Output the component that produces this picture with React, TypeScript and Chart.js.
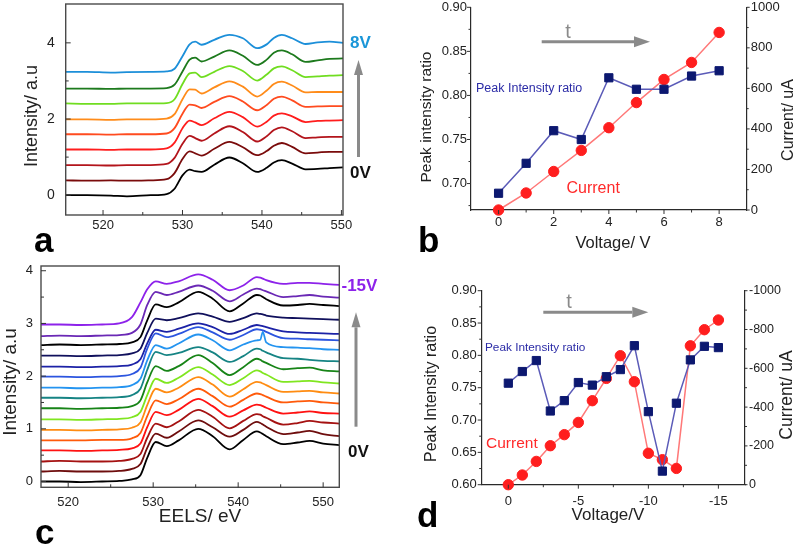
import React, { useEffect, useRef } from 'react';
import { Chart, registerables } from 'chart.js';

Chart.register(...registerables);

const FONT = '"Liberation Sans", Arial, Helvetica, sans-serif';
const W = 797;
const H = 548;

// ---------- Panel a : EELS spectra 0V .. 8V ----------
const A_EV = [515.3, 518, 521, 523, 526, 528, 529, 530, 530.9, 531.6, 532.4, 534, 535.9, 537.6, 539.4, 540.6, 541.5, 542.5, 543.8, 545.5, 547, 548.5, 550.2];
const A_0V = [0.0, 0.0, -0.01, -0.03, 0.0, 0.03, 0.17, 0.52, 0.67, 0.63, 0.61, 0.80, 0.99, 0.84, 0.61, 0.72, 0.86, 0.92, 0.83, 0.68, 0.69, 0.71, 0.73];
const A_1V = [0.39, 0.38, 0.39, 0.38, 0.39, 0.42, 0.58, 0.95, 1.15, 1.10, 1.04, 1.22, 1.40, 1.26, 1.05, 1.16, 1.30, 1.37, 1.27, 1.10, 1.12, 1.14, 1.14];
const A_2V = [0.79, 0.79, 0.78, 0.79, 0.79, 0.82, 0.98, 1.35, 1.56, 1.50, 1.43, 1.62, 1.81, 1.66, 1.41, 1.55, 1.71, 1.78, 1.68, 1.50, 1.52, 1.53, 1.53];
const A_3V = [1.20, 1.20, 1.19, 1.20, 1.20, 1.23, 1.38, 1.76, 1.96, 1.91, 1.84, 2.02, 2.19, 2.05, 1.80, 1.93, 2.09, 2.15, 2.07, 1.92, 1.95, 1.96, 1.97];
const A_4V = [1.60, 1.60, 1.59, 1.60, 1.60, 1.62, 1.76, 2.14, 2.38, 2.36, 2.29, 2.45, 2.60, 2.46, 2.23, 2.37, 2.53, 2.59, 2.49, 2.32, 2.33, 2.34, 2.34];
const A_5V = [1.99, 1.99, 1.98, 1.99, 1.99, 2.01, 2.13, 2.52, 2.78, 2.77, 2.67, 2.83, 2.99, 2.85, 2.59, 2.75, 2.92, 2.98, 2.88, 2.70, 2.71, 2.71, 2.71];
const A_6V = [2.41, 2.40, 2.40, 2.41, 2.41, 2.42, 2.52, 2.92, 3.20, 3.22, 3.10, 3.24, 3.39, 3.26, 3.01, 3.17, 3.33, 3.38, 3.28, 3.10, 3.12, 3.14, 3.15];
const A_7V = [2.80, 2.80, 2.79, 2.80, 2.80, 2.81, 2.90, 3.25, 3.56, 3.61, 3.51, 3.64, 3.80, 3.66, 3.42, 3.56, 3.74, 3.80, 3.70, 3.50, 3.54, 3.58, 3.59];
const A_8V = [3.24, 3.24, 3.22, 3.23, 3.24, 3.25, 3.32, 3.65, 3.96, 4.03, 3.95, 4.08, 4.21, 4.12, 3.86, 3.96, 4.13, 4.21, 4.12, 3.97, 4.01, 4.03, 4.00];
const A_SERIES = [A_0V, A_1V, A_2V, A_3V, A_4V, A_5V, A_6V, A_7V, A_8V];
const A_COLORS = ['#000000', '#7a0b0b', '#b3141b', '#ff1d1d', '#ff4b1f', '#ff8c1a', '#70dd20', '#1d7a1d', '#1c8fd9'];
const A_X_TICKS = [520, 530, 540, 550];
const A_X_MINOR = [525, 535, 545];
const A_Y_TICKS = [0, 2, 4];
const A_Y_MINOR = [1, 3];

// ---------- Panel b : peak ratio & current vs positive voltage ----------
const B_VOLT = [0, 1, 2, 3, 4, 5, 6, 7, 8];
const B_RATIO = [0.689, 0.723, 0.760, 0.750, 0.820, 0.807, 0.807, 0.822, 0.828];
const B_CURRENT = [0, 84, 190, 294, 406, 530, 644, 728, 876];
const B_X_TICKS = [0, 2, 4, 6, 8];
const B_X_MINOR = [1, 3, 5, 7];
const B_YL_TICKS = [0.70, 0.75, 0.80, 0.85, 0.90];
const B_YL_MINOR = [0.675, 0.725, 0.775, 0.825, 0.875];
const B_YR_TICKS = [0, 200, 400, 600, 800, 1000];
const B_YR_MINOR = [100, 300, 500, 700, 900];

// ---------- Panel c : EELS spectra 0V .. -15V ----------
const C_EV = [516.8, 519, 521.5, 524, 526, 527.5, 528.5, 529.3, 530.3, 531.6, 533, 535.3, 537, 539, 540.6, 542.2, 542.6, 542.9, 543.3, 545.3, 547, 548.4, 550, 551.9];
const C_0V = [0.00, 0.00, -0.01, 0.00, 0.01, 0.04, 0.12, 0.45, 0.75, 0.67, 0.78, 1.00, 0.86, 0.61, 0.79, 0.95, 0.93, 0.90, 0.86, 0.71, 0.74, 0.77, 0.72, 0.69];
const C_M1V = [0.19, 0.20, 0.19, 0.19, 0.20, 0.24, 0.33, 0.64, 0.91, 0.83, 0.95, 1.16, 1.03, 0.85, 0.98, 1.13, 1.11, 1.08, 1.04, 0.90, 0.93, 0.96, 0.90, 0.86];
const C_M2V = [0.38, 0.39, 0.38, 0.38, 0.39, 0.43, 0.52, 0.83, 1.10, 1.03, 1.14, 1.36, 1.23, 1.01, 1.15, 1.28, 1.27, 1.24, 1.21, 1.08, 1.11, 1.15, 1.12, 1.10];
const C_M3V = [0.59, 0.59, 0.58, 0.59, 0.60, 0.63, 0.72, 1.03, 1.32, 1.26, 1.36, 1.57, 1.43, 1.23, 1.35, 1.46, 1.45, 1.43, 1.40, 1.29, 1.31, 1.33, 1.30, 1.29];
const C_M4V = [0.78, 0.78, 0.78, 0.79, 0.79, 0.82, 0.92, 1.24, 1.54, 1.47, 1.56, 1.76, 1.62, 1.42, 1.55, 1.67, 1.66, 1.64, 1.61, 1.50, 1.52, 1.53, 1.50, 1.48];
const C_M5V = [0.98, 0.98, 0.97, 0.98, 0.99, 1.02, 1.12, 1.45, 1.76, 1.69, 1.78, 1.98, 1.84, 1.61, 1.75, 1.89, 1.88, 1.86, 1.83, 1.70, 1.71, 1.72, 1.69, 1.67];
const C_M6V = [1.18, 1.18, 1.17, 1.18, 1.19, 1.22, 1.32, 1.64, 1.95, 1.87, 1.97, 2.17, 2.03, 1.83, 1.96, 2.11, 2.09, 2.06, 2.03, 1.89, 1.90, 1.91, 1.88, 1.86];
const C_M7V = [1.39, 1.39, 1.38, 1.39, 1.40, 1.43, 1.54, 1.88, 2.19, 2.10, 2.19, 2.40, 2.25, 2.02, 2.17, 2.33, 2.31, 2.28, 2.25, 2.13, 2.15, 2.16, 2.11, 2.09];
const C_M8V = [1.59, 1.59, 1.58, 1.59, 1.60, 1.64, 1.76, 2.12, 2.46, 2.40, 2.44, 2.55, 2.45, 2.27, 2.38, 2.52, 2.51, 2.48, 2.45, 2.34, 2.33, 2.31, 2.29, 2.28];
const C_M9V = [1.78, 1.78, 1.77, 1.78, 1.79, 1.83, 1.95, 2.30, 2.59, 2.52, 2.62, 2.79, 2.68, 2.49, 2.60, 2.68, 2.69, 2.84, 2.64, 2.55, 2.54, 2.53, 2.51, 2.50];
const C_M10V = [1.99, 1.99, 1.98, 1.99, 2.00, 2.04, 2.16, 2.52, 2.81, 2.74, 2.80, 2.93, 2.83, 2.69, 2.78, 2.89, 2.88, 2.87, 2.84, 2.72, 2.71, 2.70, 2.69, 2.68];
const C_M11V = [2.18, 2.18, 2.17, 2.18, 2.19, 2.22, 2.32, 2.62, 2.88, 2.84, 2.90, 3.00, 2.93, 2.80, 2.88, 2.97, 2.96, 2.95, 2.93, 2.85, 2.83, 2.82, 2.81, 2.80];
const C_M12V = [2.39, 2.39, 2.38, 2.39, 2.40, 2.43, 2.52, 2.82, 3.09, 3.06, 3.10, 3.19, 3.13, 3.03, 3.10, 3.19, 3.18, 3.17, 3.15, 3.11, 3.10, 3.09, 3.08, 3.07];
const C_M13V = [2.59, 2.60, 2.59, 2.60, 2.61, 2.64, 2.74, 3.06, 3.36, 3.31, 3.40, 3.60, 3.47, 3.23, 3.38, 3.54, 3.53, 3.50, 3.46, 3.34, 3.35, 3.37, 3.35, 3.33];
const C_M14V = [2.76, 2.77, 2.76, 2.77, 2.78, 2.82, 2.98, 3.35, 3.60, 3.54, 3.60, 3.72, 3.62, 3.42, 3.55, 3.66, 3.65, 3.63, 3.61, 3.50, 3.52, 3.54, 3.51, 3.49];
const C_M15V = [2.98, 2.98, 2.97, 2.98, 3.00, 3.12, 3.40, 3.65, 3.80, 3.75, 3.80, 3.93, 3.83, 3.63, 3.72, 3.88, 3.87, 3.85, 3.82, 3.75, 3.77, 3.77, 3.75, 3.73];
const C_SERIES = [C_0V, C_M1V, C_M2V, C_M3V, C_M4V, C_M5V, C_M6V, C_M7V, C_M8V, C_M9V, C_M10V, C_M11V, C_M12V, C_M13V, C_M14V, C_M15V];
const C_COLORS = ['#000000', '#6e0d0d', '#a51212', '#ff1212', '#ff5a0a', '#ff8c12', '#80e620', '#178417', '#168484', '#2494f0', '#2c55df', '#1c22a6', '#10105c', '#000000', '#6a28b5', '#8d22ea'];
const C_X_TICKS = [520, 530, 540, 550];
const C_X_MINOR = [525, 535, 545];
const C_Y_TICKS = [0, 1, 2, 3, 4];
const C_Y_MINOR = [0.5, 1.5, 2.5, 3.5];

// ---------- Panel d : peak ratio & current vs negative voltage ----------
const D_VOLT = [0, -1, -2, -3, -4, -5, -6, -7, -8, -9, -10, -11, -12, -13, -14, -15];
const D_RATIO = [0.757, 0.775, 0.792, 0.714, 0.730, 0.758, 0.754, 0.767, 0.778, 0.815, 0.713, 0.621, 0.726, 0.793, 0.814, 0.812];
const D_CURRENT = [0, -50, -120, -201, -258, -321, -433, -548, -665, -531, -162, -129, -84, -716, -799, -849];
const D_X_TICKS = [0, -5, -10, -15];
const D_X_MINOR = [-2.5, -7.5, -12.5];
const D_YL_TICKS = [0.60, 0.65, 0.70, 0.75, 0.80, 0.85, 0.90];
const D_YL_MINOR = [0.625, 0.675, 0.725, 0.775, 0.825, 0.875];
const D_YR_TICKS = [0, -200, -400, -600, -800, -1000];
const D_YR_MINOR = [-100, -300, -500, -700, -900];

// ---------- helpers ----------
type Box = { l: number; r: number; t: number; b: number };
type TickSpec = { axis: string; major: number[]; minor: number[]; inward: boolean; majLen: number; minLen: number };

const A_BOX: Box = { l: 65.7, r: 343, t: 4, b: 215 };
const B_BOX: Box = { l: 471, r: 746.7, t: 7.3, b: 210 };
const C_BOX: Box = { l: 41, r: 339.3, t: 266, b: 487.3 };
const D_BOX: Box = { l: 481.7, r: 745, t: 290.7, b: 484.7 };

function padFor(box: Box, leftW: number, rightW: number, bottomH: number) {
  return { left: box.l - leftW, right: W - box.r - rightW, top: box.t, bottom: H - box.b - bottomH };
}

function fixSize(size: number) {
  return (scale: any) => {
    if (scale.isHorizontal()) scale.height = size;
    else scale.width = size;
    scale.paddingLeft = 0;
    scale.paddingRight = 0;
    scale.paddingTop = 0;
    scale.paddingBottom = 0;
  };
}

function setTicks(values: number[]) {
  return (scale: any) => {
    scale.ticks = values.map((v) => ({ value: v }));
  };
}

function fmtNum(v: number) {
  return v < 0 ? '-' + String(Math.abs(v)) : String(v);
}

function axis(opts: any) {
  const { min, max, ticks, size, padding, fmt, position, reverse, border, fontSize } = opts;
  return {
    type: 'linear',
    position,
    min,
    max,
    reverse: !!reverse,
    grid: { display: false, drawTicks: false },
    border: border ? { display: true, color: '#2a2a2a', width: 1.2 } : { display: false },
    afterBuildTicks: setTicks(ticks),
    afterFit: fixSize(size),
    ticks: {
      padding,
      autoSkip: false,
      maxRotation: 0,
      minRotation: 0,
      color: '#222',
      font: { family: FONT, size: fontSize || 13 },
      callback: (v: number) => (fmt ? fmt(v) : fmtNum(v)),
    },
  };
}

function txt(ctx: CanvasRenderingContext2D, s: string, x: number, y: number, size: number, color: string, o: any = {}) {
  ctx.save();
  ctx.font = `${o.bold ? 'bold ' : ''}${size}px ${FONT}`;
  ctx.fillStyle = color;
  ctx.textAlign = o.align || 'center';
  ctx.textBaseline = o.baseline || 'middle';
  ctx.translate(x, y);
  if (o.rot) ctx.rotate(o.rot);
  ctx.fillText(s, 0, 0);
  ctx.restore();
}

function arrow(ctx: CanvasRenderingContext2D, x1: number, y1: number, x2: number, y2: number, hl = 15, hw = 5.5) {
  const color = '#8a8a8a';
  const ang = Math.atan2(y2 - y1, x2 - x1);
  const bx = x2 - hl * Math.cos(ang);
  const by = y2 - hl * Math.sin(ang);
  ctx.save();
  ctx.strokeStyle = color;
  ctx.fillStyle = color;
  ctx.lineWidth = 3;
  ctx.beginPath();
  ctx.moveTo(x1, y1);
  ctx.lineTo(bx, by);
  ctx.stroke();
  ctx.beginPath();
  ctx.moveTo(x2, y2);
  ctx.lineTo(bx + hw * Math.sin(ang), by - hw * Math.cos(ang));
  ctx.lineTo(bx - hw * Math.sin(ang), by + hw * Math.cos(ang));
  ctx.closePath();
  ctx.fill();
  ctx.restore();
}

function decoPlugin(ticks: TickSpec[], frame: boolean, draw: (ctx: CanvasRenderingContext2D) => void) {
  return {
    id: 'deco',
    afterDraw(chart: any) {
      const ctx: CanvasRenderingContext2D = chart.ctx;
      const ca = chart.chartArea;
      if (frame) {
        ctx.save();
        ctx.strokeStyle = '#4a4a4a';
        ctx.lineWidth = 1.4;
        ctx.strokeRect(ca.left, ca.top, ca.right - ca.left, ca.bottom - ca.top);
        ctx.restore();
      }
      ctx.save();
      ctx.strokeStyle = '#333';
      ctx.lineWidth = 1;
      for (const t of ticks) {
        const sc = chart.scales[t.axis];
        const draws: [number[], number][] = [[t.major, t.majLen], [t.minor, t.minLen]];
        for (const [vals, len] of draws) {
          for (const v of vals) {
            const p = sc.getPixelForValue(v);
            ctx.beginPath();
            if (sc.isHorizontal()) {
              const y0 = ca.bottom;
              const dir = t.inward ? -1 : 1;
              ctx.moveTo(p, y0);
              ctx.lineTo(p, y0 + dir * len);
            } else {
              const left = sc.position === 'left';
              const x0 = left ? ca.left : ca.right;
              const dir = left ? (t.inward ? 1 : -1) : (t.inward ? -1 : 1);
              ctx.moveTo(x0, p);
              ctx.lineTo(x0 + dir * len, p);
            }
            ctx.stroke();
          }
        }
      }
      ctx.restore();
      draw(ctx);
    },
  };
}

function spectraDatasets(xs: number[], series: number[][], colors: string[]) {
  return series.map((s, i) => ({
    data: xs.map((x, j) => ({ x, y: s[j] })),
    borderColor: colors[i],
    borderWidth: 1.8,
    pointRadius: 0,
    fill: false,
    cubicInterpolationMode: 'monotone',
  }));
}

function pairDatasets(xs: number[], ratio: number[], current: number[]) {
  return [
    {
      data: xs.map((x, i) => ({ x, y: ratio[i] })),
      yAxisID: 'y',
      borderColor: '#5b5bb8',
      borderWidth: 1.5,
      pointStyle: 'rect',
      pointRadius: 5.8,
      pointBackgroundColor: '#0c1870',
      pointBorderColor: '#0c1870',
      pointBorderWidth: 1,
      tension: 0,
      clip: false,
    },
    {
      data: xs.map((x, i) => ({ x, y: current[i] })),
      yAxisID: 'y1',
      borderColor: '#ff7878',
      borderWidth: 1.5,
      pointStyle: 'circle',
      pointRadius: 5.2,
      pointBackgroundColor: '#ff1e1e',
      pointBorderColor: '#ff1e1e',
      pointBorderWidth: 1,
      tension: 0,
      clip: false,
    },
  ];
}

const baseOpts = {
  responsive: false,
  animation: false,
  devicePixelRatio: 1,
  events: [],
  plugins: { legend: { display: false }, tooltip: { enabled: false } },
};

function cfgA(): any {
  return {
    type: 'line',
    data: { datasets: spectraDatasets(A_EV, A_SERIES, A_COLORS) },
    options: {
      ...baseOpts,
      layout: { padding: padFor(A_BOX, 40, 0, 30) },
      scales: {
        x: axis({ min: 515.3, max: 550.2, ticks: A_X_TICKS, size: 30, padding: 3, position: 'bottom' }),
        y: axis({ min: -0.52, max: 5.02, ticks: A_Y_TICKS, size: 40, padding: 11, position: 'left', fontSize: 14 }),
      },
    },
    plugins: [
      decoPlugin(
        [
          { axis: 'x', major: A_X_TICKS, minor: A_X_MINOR, inward: true, majLen: 5, minLen: 3 },
          { axis: 'y', major: A_Y_TICKS, minor: A_Y_MINOR, inward: true, majLen: 5, minLen: 3 },
        ],
        true,
        (ctx) => {
          txt(ctx, 'Intensity/ a.u', 32, 116, 18, '#222', { rot: -Math.PI / 2 });
          txt(ctx, '8V', 350, 43, 17, '#1a96d8', { bold: true, align: 'left' });
          txt(ctx, '0V', 350, 173, 17, '#111', { bold: true, align: 'left' });
          arrow(ctx, 358.5, 157, 358.5, 60, 15, 4.5);
          txt(ctx, 'a', 34, 252, 35, '#000', { bold: true, align: 'left', baseline: 'alphabetic' });
        }
      ),
    ],
  };
}

function cfgB(): any {
  return {
    type: 'line',
    data: { datasets: pairDatasets(B_VOLT, B_RATIO, B_CURRENT) },
    options: {
      ...baseOpts,
      layout: { padding: padFor(B_BOX, 40, 40, 30) },
      scales: {
        x: axis({ min: -1, max: 9, ticks: B_X_TICKS, size: 30, padding: 5, position: 'bottom', border: true }),
        y: axis({ min: 0.67, max: 0.9, ticks: B_YL_TICKS, size: 40, padding: 4, position: 'left', border: true, fmt: (v: number) => v.toFixed(2) }),
        y1: axis({ min: 0, max: 1000, ticks: B_YR_TICKS, size: 40, padding: 4, position: 'right', border: true }),
      },
    },
    plugins: [
      decoPlugin(
        [
          { axis: 'x', major: B_X_TICKS, minor: B_X_MINOR, inward: false, majLen: 4, minLen: 2.5 },
          { axis: 'y', major: B_YL_TICKS, minor: B_YL_MINOR, inward: false, majLen: 4, minLen: 2.5 },
          { axis: 'y1', major: B_YR_TICKS, minor: B_YR_MINOR, inward: false, majLen: 3, minLen: 2 },
        ],
        false,
        (ctx) => {
          txt(ctx, 'Peak intensity ratio', 426.5, 117, 15.5, '#222', { rot: -Math.PI / 2 });
          txt(ctx, 'Current/ uA', 789, 120, 16, '#222', { rot: -Math.PI / 2 });
          txt(ctx, 'Voltage/ V', 613, 243, 16.5, '#222');
          txt(ctx, 'Peak Intensity ratio', 476, 89, 12.5, '#2b2ba6', { align: 'left' });
          txt(ctx, 'Current', 566.5, 189, 16, '#ff2a2a', { align: 'left' });
          txt(ctx, 't', 568, 32, 20, '#8a8a8a');
          arrow(ctx, 541.7, 41.7, 650, 41.7, 16, 5.5);
          txt(ctx, 'b', 418, 251.5, 35, '#000', { bold: true, align: 'left', baseline: 'alphabetic' });
        }
      ),
    ],
  };
}

function cfgC(): any {
  return {
    type: 'line',
    data: { datasets: spectraDatasets(C_EV, C_SERIES, C_COLORS) },
    options: {
      ...baseOpts,
      layout: { padding: padFor(C_BOX, 30, 0, 30) },
      scales: {
        x: axis({ min: 516.8, max: 551.9, ticks: C_X_TICKS, size: 30, padding: 7, position: 'bottom' }),
        y: axis({ min: -0.11, max: 4.09, ticks: C_Y_TICKS, size: 30, padding: 8, position: 'left' }),
      },
    },
    plugins: [
      decoPlugin(
        [
          { axis: 'x', major: C_X_TICKS, minor: C_X_MINOR, inward: true, majLen: 5, minLen: 3 },
          { axis: 'y', major: C_Y_TICKS, minor: C_Y_MINOR, inward: true, majLen: 5, minLen: 3 },
        ],
        true,
        (ctx) => {
          txt(ctx, 'Intensity/ a.u', 11, 382, 19, '#222', { rot: -Math.PI / 2 });
          txt(ctx, 'EELS/ eV', 200, 517, 19, '#222');
          txt(ctx, '-15V', 341.5, 286, 17, '#8d22ea', { bold: true, align: 'left' });
          txt(ctx, '0V', 348, 452.5, 17, '#111', { bold: true, align: 'left' });
          arrow(ctx, 356, 426.7, 356, 312.3, 15, 4.5);
          txt(ctx, 'c', 35, 544, 35, '#000', { bold: true, align: 'left', baseline: 'alphabetic' });
        }
      ),
    ],
  };
}

function cfgD(): any {
  return {
    type: 'line',
    data: { datasets: pairDatasets(D_VOLT, D_RATIO, D_CURRENT) },
    options: {
      ...baseOpts,
      layout: { padding: padFor(D_BOX, 40, 40, 30) },
      scales: {
        x: axis({ min: -16.9, max: 1.9, reverse: true, ticks: D_X_TICKS, size: 30, padding: 9, position: 'bottom', border: true }),
        y: axis({ min: 0.6, max: 0.9, ticks: D_YL_TICKS, size: 40, padding: 5, position: 'left', border: true, fmt: (v: number) => v.toFixed(2) }),
        y1: axis({ min: -1000, max: 0, reverse: true, ticks: D_YR_TICKS, size: 40, padding: 4, position: 'right', border: true, fontSize: 12.5 }),
      },
    },
    plugins: [
      decoPlugin(
        [
          { axis: 'x', major: D_X_TICKS, minor: D_X_MINOR, inward: false, majLen: 4, minLen: 2.5 },
          { axis: 'y', major: D_YL_TICKS, minor: D_YL_MINOR, inward: false, majLen: 4, minLen: 2.5 },
          { axis: 'y1', major: D_YR_TICKS, minor: D_YR_MINOR, inward: false, majLen: 2.5, minLen: 2 },
        ],
        false,
        (ctx) => {
          txt(ctx, 'Peak Intensity ratio', 431.5, 394, 16, '#222', { rot: -Math.PI / 2 });
          txt(ctx, 'Current/ uA', 787.5, 395, 17.5, '#222', { rot: -Math.PI / 2 });
          txt(ctx, 'Voltage/V', 608, 515, 17, '#222');
          txt(ctx, 'Peak Intensity ratio', 485, 347.5, 11.8, '#2b2ba6', { align: 'left' });
          txt(ctx, 'Current', 486, 444, 15.5, '#ff2a2a', { align: 'left' });
          txt(ctx, 't', 569, 302, 20, '#8a8a8a');
          arrow(ctx, 543.3, 312.3, 648.3, 312.3, 16, 5.5);
          txt(ctx, 'd', 417, 527.3, 35, '#000', { bold: true, align: 'left', baseline: 'alphabetic' });
        }
      ),
    ],
  };
}

export default function App() {
  const ra = useRef<HTMLCanvasElement>(null);
  const rb = useRef<HTMLCanvasElement>(null);
  const rc = useRef<HTMLCanvasElement>(null);
  const rd = useRef<HTMLCanvasElement>(null);

  useEffect(() => {
    const charts = [
      new Chart(ra.current as HTMLCanvasElement, cfgA()),
      new Chart(rb.current as HTMLCanvasElement, cfgB()),
      new Chart(rc.current as HTMLCanvasElement, cfgC()),
      new Chart(rd.current as HTMLCanvasElement, cfgD()),
    ];
    return () => charts.forEach((c) => c.destroy());
  }, []);

  const cs: React.CSSProperties = { position: 'absolute', left: 0, top: 0, width: W, height: H };
  return (
    <div style={{ position: 'fixed', left: 0, top: 0, width: W, height: H, background: '#fff', overflow: 'hidden' }}>
      <canvas ref={ra} width={W} height={H} style={cs} />
      <canvas ref={rb} width={W} height={H} style={cs} />
      <canvas ref={rc} width={W} height={H} style={cs} />
      <canvas ref={rd} width={W} height={H} style={cs} />
    </div>
  );
}
